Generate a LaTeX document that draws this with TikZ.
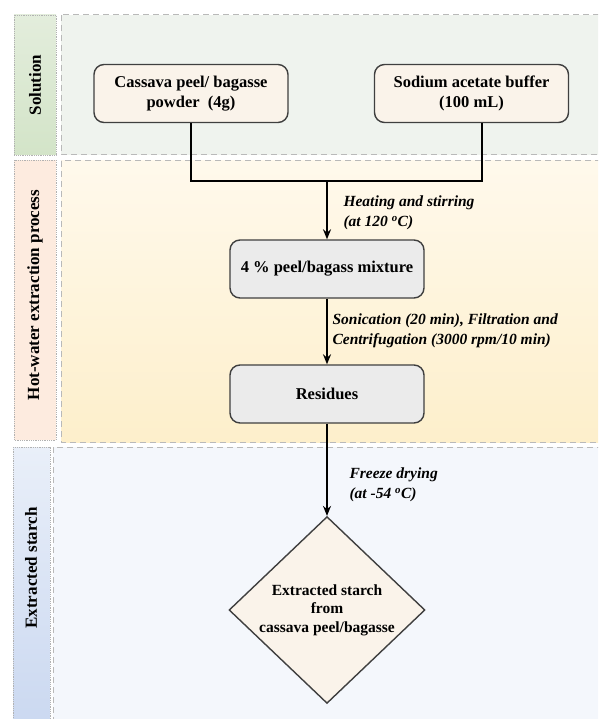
\documentclass[tikz,border=0pt]{standalone}
\usepackage{fontspec}
\setmainfont{Liberation Serif}
\usetikzlibrary{arrows.meta,shapes.geometric}

\definecolor{solpanel}{HTML}{EFF3EE}
\definecolor{hotpanel}{HTML}{FFF9EC}
\definecolor{hotpanelb}{HTML}{FDEFCB}
\definecolor{exppanel}{HTML}{F4F7FC}
\definecolor{sollabel}{HTML}{E3EDDC}
\definecolor{sollabelb}{HTML}{D3E4C8}
\definecolor{hotlabel}{HTML}{FDEBDF}
\definecolor{explabel}{HTML}{E9EFF9}
\definecolor{explabelb}{HTML}{C9D7F0}
\definecolor{creambox}{HTML}{FAF3EA}
\definecolor{greybox}{HTML}{EBEBEB}
\definecolor{edgegrey}{HTML}{3F3F3F}

\tikzset{
  panel/.style={draw=gray!55, dash pattern=on 6pt off 4pt, line width=1pt},
  sidelabel/.style={draw=gray!60, densely dotted, line width=0.8pt},
  sidetext/.style={rotate=90, font=\fontsize{17}{20}\selectfont\bfseries},
  stepbox/.style={draw=edgegrey, line width=1.4pt, rounded corners=10pt,
    minimum width=194pt, minimum height=58pt, align=center,
    font=\fontsize{16.5}{20}\selectfont\bfseries},
  note/.style={anchor=west, align=left, font=\fontsize{15.5}{20.5}\selectfont\bfseries\itshape},
  flow/.style={line width=1.6pt, -{Stealth[length=10pt,width=8pt]}}
}

\begin{document}
\begin{tikzpicture}[x=1pt, y=-1pt]
  \useasboundingbox (0,0) rectangle (598,719);
  \clip (0,0) rectangle (598,719);

  % panels
  \fill[solpanel] (61,15) rectangle (610,155);
  \draw[panel] (61,15) rectangle (610,155);
  \shade[top color=hotpanel, bottom color=hotpanelb] (61,161) rectangle (610,442);
  \draw[panel] (61,161) rectangle (610,442);
  \fill[exppanel] (53,447) rectangle (610,740);
  \draw[panel] (53,447) rectangle (610,740);

  % side labels
  \shade[top color=sollabel, bottom color=sollabelb] (14,15) rectangle (56,155);
  \draw[sidelabel] (14,15) rectangle (56,155);
  \node[sidetext] (solution) at (35,85) {Solution};
  \fill[hotlabel] (14,160) rectangle (56,440);
  \draw[sidelabel] (14,160) rectangle (56,440);
  \node[sidetext] (hotwater) at (35,295) {Hot-water extraction process};
  \shade[top color=explabel, bottom color=explabelb] (13,447) rectangle (50,740);
  \draw[sidelabel] (13,447) rectangle (50,740);
  \node[sidetext] (extracted) at (31,568) {Extracted starch};

  % steps
  \node[stepbox, fill=creambox] (cassava) at (191,93.5) {Cassava peel/ bagasse\\powder\ \ (4g)};
  \node[stepbox, fill=creambox] (sodium) at (471.5,93.5) {Sodium acetate buffer\\(100 mL)};
  \node[stepbox, fill=greybox] (mixture) at (327,269) {4 \% peel/bagass mixture};
  \node[stepbox, fill=greybox] (residues) at (327,394) {Residues};
  \node[diamond, draw=edgegrey, line width=1.4pt, fill=creambox, minimum width=196pt,
    minimum height=184pt, inner sep=0pt, align=center,
    font=\fontsize{15.5}{18.5}\selectfont\bfseries] (starch) at (327,610)
    {Extracted starch\\from\\cassava peel/bagasse};

  \coordinate (join) at (327,181);
  \coordinate (sodiumfoot) at (482,123);
  \draw[line width=1.6pt] (cassava.south) |- (join) -| (sodiumfoot);
  \draw[flow] (join) -- (mixture.north);
  \draw[flow] (mixture.south) -- (residues.north);
  \draw[flow] (residues.south) -- (starch.north);

  \node[note] (heating) at (340,213) {Heating and stirring\\(at 120 \textsuperscript{o}C)};
  \node[note] (sonication) at (329,331) {Sonication (20 min), Filtration and\\Centrifugation (3000 rpm/10 min)};
  \node[note] (freeze) at (346,485) {Freeze drying\\(at -54 \textsuperscript{o}C)};
\end{tikzpicture}
\end{document}
